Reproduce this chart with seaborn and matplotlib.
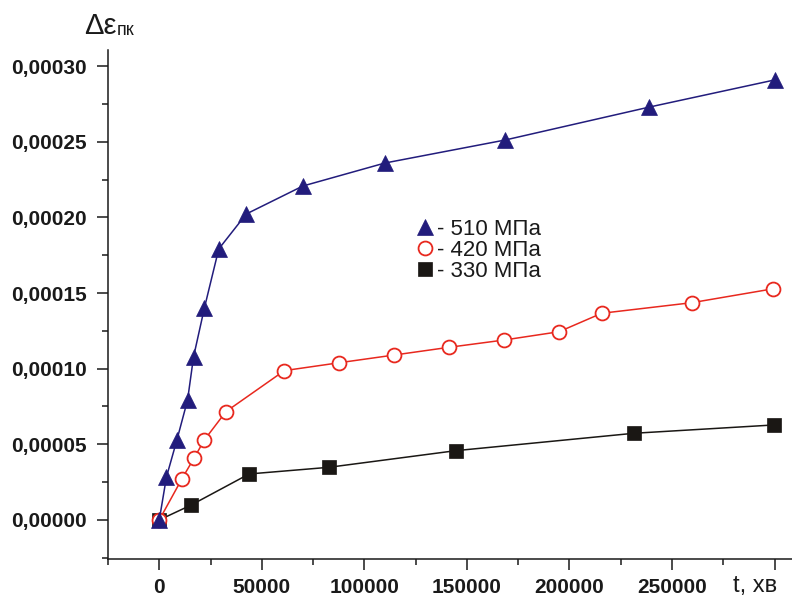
import matplotlib
matplotlib.use("Agg")
import matplotlib.pyplot as plt
import seaborn as sns
import numpy as np
from matplotlib.ticker import MultipleLocator, FuncFormatter, FixedLocator

# ---- data ----
t_510 = [0, 3500, 8600, 13800, 16700, 22000, 29000, 42400, 70000, 110000, 168600, 239000, 300000]
e_510 = [0.0, 2.84e-5, 5.29e-5, 7.93e-5, 1.077e-4, 1.401e-4, 1.791e-4, 2.022e-4, 2.207e-4, 2.359e-4,
         2.511e-4, 2.729e-4, 2.908e-4]

t_420 = [0, 11000, 17000, 22000, 32500, 61000, 87700, 114500, 141200, 168000, 194900, 215700, 259700, 299400]
e_420 = [0.0, 2.71e-5, 4.10e-5, 5.29e-5, 7.16e-5, 9.87e-5, 1.039e-4, 1.090e-4, 1.141e-4, 1.189e-4,
         1.244e-4, 1.366e-4, 1.436e-4, 1.528e-4]

t_330 = [0, 15600, 43800, 82700, 144600, 231500, 299800]
e_330 = [0.0, 9.9e-6, 3.04e-5, 3.48e-5, 4.58e-5, 5.73e-5, 6.28e-5]

labels = ["- 510 МПа", "- 420 МПа", "- 330 МПа"]
x_major = [0, 50000, 100000, 150000, 200000, 250000, 300000]
x_ticklabels = ["0", "50000", "100000", "150000", "200000", "250000", ""]
y_major = [0.0, 0.00005, 0.00010, 0.00015, 0.00020, 0.00025, 0.00030]

# ---- style ----
sns.set_style("ticks")
plt.rcParams["font.family"] = ["Liberation Sans", "DejaVu Sans"]

c_blue = "#221C7C"
c_red = "#E8281E"
c_black = "#1A1714"

fig = plt.figure(figsize=(7.92, 5.96), dpi=100)
ax = fig.add_axes([108 / 792, 37 / 596, 1 - 108 / 792, (559 - 50) / 596])

sns.lineplot(x=t_330, y=e_330, ax=ax, color=c_black, lw=1.1, marker="s", markersize=9.5,
             markerfacecolor=c_black, markeredgecolor=c_black, markeredgewidth=0.5,
             label=labels[2], sort=False)
sns.lineplot(x=t_420, y=e_420, ax=ax, color=c_red, lw=1.1, marker="o", markersize=10,
             markerfacecolor="white", markeredgecolor=c_red, markeredgewidth=1.3,
             label=labels[1], sort=False)
sns.lineplot(x=t_510, y=e_510, ax=ax, color=c_blue, lw=1.1, marker="^", markersize=11,
             markerfacecolor=c_blue, markeredgecolor=c_blue, markeredgewidth=0.5,
             label=labels[0], sort=False)

ax.set_xlim(-25000, 308500)
ax.set_ylim(-0.0000258, 0.0003106)

ax.xaxis.set_major_locator(FixedLocator(x_major))
ax.set_xticklabels(x_ticklabels)
ax.xaxis.set_minor_locator(MultipleLocator(25000))
ax.yaxis.set_major_locator(FixedLocator(y_major))
ax.yaxis.set_minor_locator(MultipleLocator(0.000025))
ax.yaxis.set_major_formatter(FuncFormatter(lambda v, p: f"{v:.5f}".replace(".", ",")))

for lab in ax.get_xticklabels() + ax.get_yticklabels():
    lab.set_fontweight("bold")
    lab.set_fontsize(15)
    lab.set_color("#1a1a1a")

ax.tick_params(axis="both", which="major", direction="out", length=8, width=1.1, color="#1a1a1a")
ax.tick_params(axis="both", which="minor", direction="out", length=4, width=1.1, color="#1a1a1a")
ax.tick_params(axis="y", which="major", pad=7)
ax.tick_params(axis="x", which="major", pad=6)

sns.despine(ax=ax)
for s in ("left", "bottom"):
    ax.spines[s].set_linewidth(1.1)
    ax.spines[s].set_color("#1a1a1a")

# legend in order 510, 420, 330
h, l = ax.get_legend_handles_labels()
order = [l.index(x) for x in labels]
leg = ax.legend([h[i] for i in order], [l[i] for i in order], loc="upper left",
                bbox_to_anchor=((414 - 108) / (792 - 108), (559 - 219) / (559 - 50)),
                frameon=False, fontsize=16, handlelength=1.0, handletextpad=0.05,
                labelspacing=0.0, borderpad=0, borderaxespad=0)
for line in leg.get_lines():
    line.set_linestyle("none")
for txt in leg.get_texts():
    txt.set_color("#1a1a1a")

# axis titles
fig.text(84 / 792, 1 - 34 / 596, "Δε", fontsize=21, ha="left", va="baseline", color="#1a1a1a")
fig.text(117 / 792, 1 - 35 / 596, "пк", fontsize=13, ha="left", va="baseline", color="#1a1a1a")
fig.text(733 / 792, 1 - 592 / 596, "t, хв", fontsize=17, ha="left", va="baseline", color="#1a1a1a")

fig.savefig("out.png", dpi=100)
